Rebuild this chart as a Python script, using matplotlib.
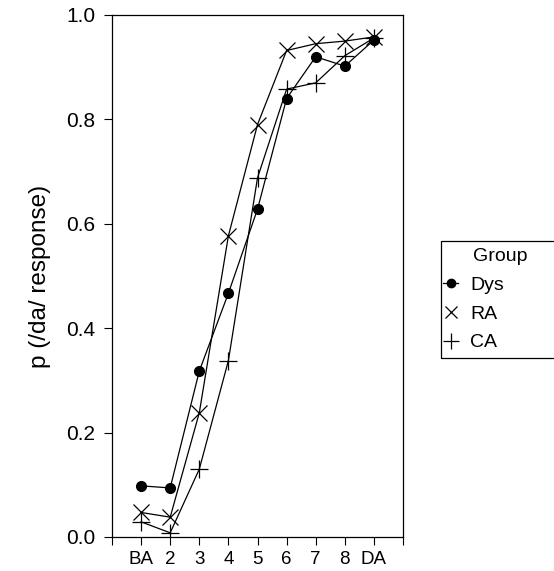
import matplotlib
matplotlib.use("Agg")
import matplotlib.pyplot as plt
from matplotlib.lines import Line2D
from matplotlib.patches import Rectangle

plt.rcParams['font.family'] = ['Liberation Sans', 'DejaVu Sans']

# continuum steps
steps = ["BA", "2", "3", "4", "5", "6", "7", "8", "DA"]
positions = list(range(1, len(steps) + 1))

# proportion of /da/ responses per group
dys = [0.098, 0.094, 0.318, 0.467, 0.628, 0.840, 0.920, 0.902, 0.952]
ra = [0.047, 0.038, 0.238, 0.577, 0.790, 0.932, 0.945, 0.950, 0.958]
ca = [0.029, 0.008, 0.130, 0.338, 0.688, 0.858, 0.870, 0.922, 0.956]

W, H = 554, 571
fig = plt.figure(figsize=(W / 100, H / 100), dpi=100)
ax = fig.add_axes([112 / W, 1 - 537 / H, (403 - 112) / W, (537 - 15) / H])

lw = 0.9
ax.plot(positions, dys, color='black', lw=lw, marker='o', ms=7, mfc='black', mec='black')
ax.plot(positions, ra, color='black', lw=lw, marker='x', ms=12, mew=0.9)
ax.plot(positions, ca, color='black', lw=lw, marker='+', ms=13, mew=0.9)

ax.set_xlim(0, 10)
ax.set_ylim(0, 1.0)
ax.set_xticks([0] + positions + [10])
ax.set_xticklabels([""] + steps + [""])
ax.set_yticks([0.0, 0.2, 0.4, 0.6, 0.8, 1.0])
ax.set_yticklabels(["0.0", "0.2", "0.4", "0.6", "0.8", "1.0"])
ax.tick_params(direction='out', length=6, width=0.8)
ax.tick_params(axis='x', labelsize=13.5, pad=4)
ax.tick_params(axis='y', labelsize=15, pad=6)
for s in ax.spines.values():
    s.set_linewidth(0.9)
ax.set_ylabel("p (/da/ response)", fontsize=17.5, labelpad=11)

# legend frame drawn by hand so the side padding can differ from the top one
fig.patches.append(Rectangle((441 / W, 1 - 358 / H), 125 / W, 117 / H,
                             transform=fig.transFigure, fill=False,
                             edgecolor='black', lw=0.9))

handles = [
    Line2D([], [], color='black', lw=lw, marker='o', ms=6),
    Line2D([], [], color='black', lw=0, marker='x', ms=9, mew=0.9),
    Line2D([], [], color='black', lw=0, marker='+', ms=11, mew=0.9),
]
leg = fig.legend(handles, ["Dys", "RA", "CA"], title="Group",
                 loc='upper left',
                 bbox_to_anchor=(436 / W, 1 - 359 / H, 128 / W, 118 / H),
                 mode='expand', frameon=False,
                 fontsize=14, title_fontsize=14,
                 handlelength=0.8, handletextpad=0.6,
                 borderaxespad=0, borderpad=0.35, labelspacing=0.58)

fig.savefig("out.png", dpi=100)
